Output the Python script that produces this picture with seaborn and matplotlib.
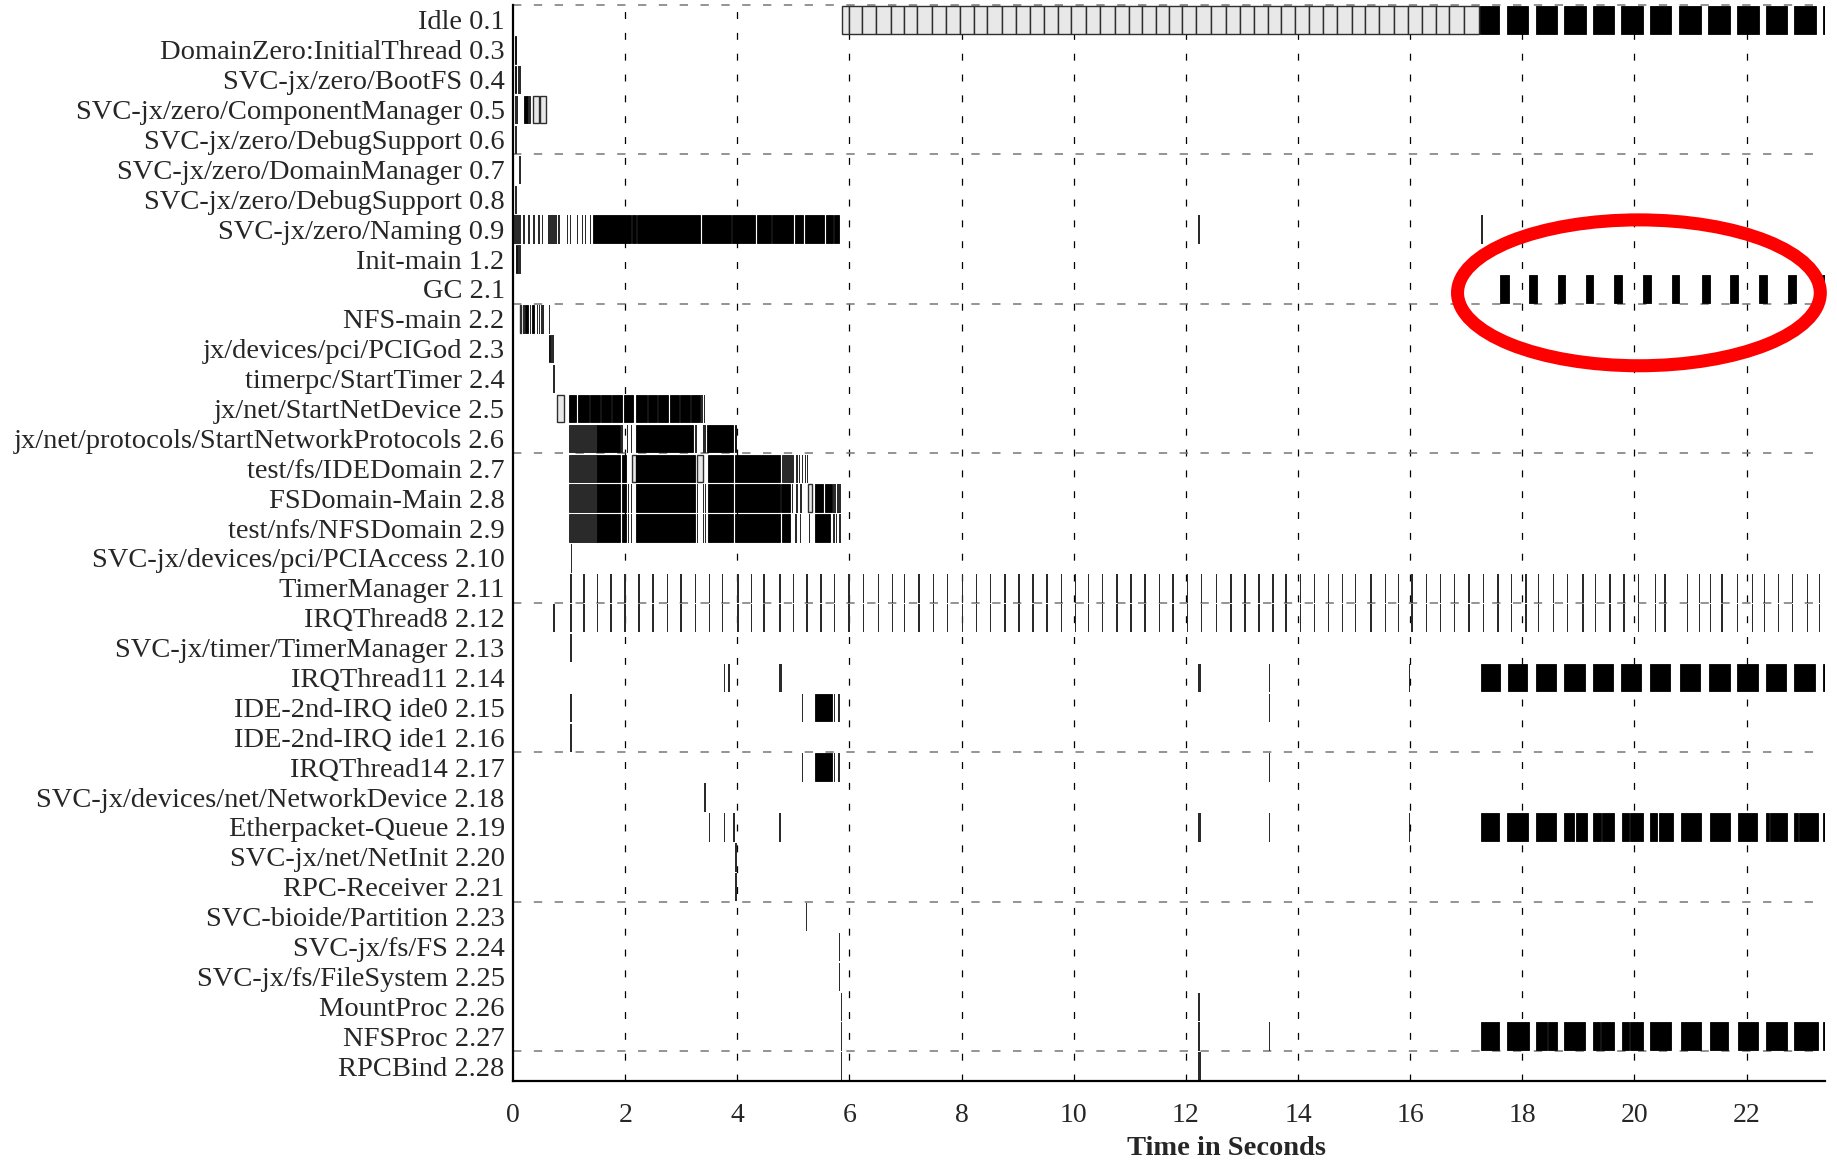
import numpy as np
import pandas as pd
import matplotlib
matplotlib.use("Agg")
import matplotlib.pyplot as plt
from matplotlib.patches import Ellipse
import seaborn as sns

# ---------------------------------------------------------------- threads
threads = [
    "Idle 0.1", "DomainZero:InitialThread 0.3", "SVC-jx/zero/BootFS 0.4",
    "SVC-jx/zero/ComponentManager 0.5", "SVC-jx/zero/DebugSupport 0.6",
    "SVC-jx/zero/DomainManager 0.7", "SVC-jx/zero/DebugSupport 0.8",
    "SVC-jx/zero/Naming 0.9", "Init-main 1.2", "GC 2.1", "NFS-main 2.2",
    "jx/devices/pci/PCIGod 2.3", "timerpc/StartTimer 2.4",
    "jx/net/StartNetDevice 2.5", "jx/net/protocols/StartNetworkProtocols 2.6",
    "test/fs/IDEDomain 2.7", "FSDomain-Main 2.8", "test/nfs/NFSDomain 2.9",
    "SVC-jx/devices/pci/PCIAccess 2.10", "TimerManager 2.11",
    "IRQThread8 2.12", "SVC-jx/timer/TimerManager 2.13", "IRQThread11 2.14",
    "IDE-2nd-IRQ ide0 2.15", "IDE-2nd-IRQ ide1 2.16", "IRQThread14 2.17",
    "SVC-jx/devices/net/NetworkDevice 2.18", "Etherpacket-Queue 2.19",
    "SVC-jx/net/NetInit 2.20", "RPC-Receiver 2.21", "SVC-bioide/Partition 2.23",
    "SVC-jx/fs/FS 2.24", "SVC-jx/fs/FileSystem 2.25", "MountProc 2.26",
    "NFSProc 2.27", "RPCBind 2.28",
]

# ---------------------------------------------------------------- run intervals (seconds)
idle_light_edges = [5.872, 5.992, 6.231, 6.469, 6.732, 6.971, 7.209, 7.472, 7.727,
                    7.966, 8.220, 8.459, 8.722, 8.977, 9.215, 9.470, 9.717, 9.956,
                    10.218, 10.465, 10.728, 10.983, 11.221, 11.468, 11.707, 11.938,
                    12.184, 12.439, 12.718, 12.973, 13.211, 13.458, 13.697, 13.952,
                    14.198, 14.453, 14.692, 14.955, 15.201, 15.440, 15.703, 15.965,
                    16.220, 16.459, 16.698, 16.953, 17.231]
idle_busy = [(17.24, 17.59), (17.72, 18.11), (18.24, 18.62), (18.74, 19.13),
             (19.26, 19.63), (19.76, 20.15), (20.27, 20.65), (20.80, 21.19),
             (21.32, 21.71), (21.83, 22.22), (22.34, 22.72), (22.85, 23.23),
             (23.36, 23.40)]

gc_busy = [(17.61, 17.76), (18.12, 18.26), (18.63, 18.77), (19.14, 19.27),
           (19.64, 19.78), (20.16, 20.30), (20.67, 20.80), (21.21, 21.35),
           (21.71, 21.85), (22.23, 22.37), (22.74, 22.88), (23.35, 23.40)]

naming_ticks = [0.01, 0.03, 0.05, 0.07, 0.09, 0.11, 0.184, 0.273, 0.362, 0.451,
                0.51, 0.63, 0.66, 0.69, 0.72, 0.75, 0.808, 0.957, 1.016, 1.135,
                1.224, 1.283, 1.372, 12.22, 17.27]
naming_busy = [(1.43, 2.10), (2.13, 2.19), (2.21, 3.33), (3.37, 3.88), (3.90, 4.32),
               (4.35, 4.60), (4.62, 5.00), (5.03, 5.17), (5.20, 5.55), (5.58, 5.70),
               (5.72, 5.82)]

netdev_busy = [(0.99, 1.13), (1.165, 1.36), (1.38, 1.55), (1.57, 1.75), (1.77, 1.95),
               (1.98, 2.14), (2.20, 2.38), (2.40, 2.56), (2.59, 2.77), (2.79, 2.96),
               (2.98, 3.15), (3.17, 3.33)]

timer_ticks = [1.02, 1.25, 1.49, 1.73, 1.98, 2.23, 2.48, 2.74, 2.98, 3.24, 3.49, 3.72,
               4.00, 4.24, 4.46, 4.75, 4.99, 5.23, 5.48, 5.72, 5.98, 6.24, 6.50, 6.75,
               6.97, 7.23, 7.49, 7.74, 8.00, 8.25, 8.50, 8.76, 9.01, 9.26, 9.51, 9.77,
               10.02, 10.25, 10.50, 10.76, 11.01, 11.26, 11.52, 11.76, 12.02, 12.27,
               12.53, 12.79, 13.04, 13.29, 13.54, 13.77, 14.03, 14.28, 14.53, 14.78,
               15.01, 15.29, 15.55, 15.78, 16.02, 16.28, 16.53, 16.78, 17.04, 17.30,
               17.55, 17.79, 18.05, 18.28, 18.54, 18.79, 19.07, 19.29, 19.55, 19.80,
               20.06, 20.36, 20.53, 20.93, 21.15, 21.34, 21.55, 21.83, 22.09, 22.31,
               22.56, 22.81, 23.07, 23.29]

irq11_busy = [(17.27, 17.60), (17.74, 18.09), (18.24, 18.60), (18.75, 19.11),
              (19.26, 19.61), (19.76, 20.12), (20.27, 20.64), (20.81, 21.17),
              (21.33, 21.70), (21.83, 22.20), (22.34, 22.71), (22.84, 23.22),
              (23.36, 23.40)]
ether_busy = [(17.27, 17.59), (17.73, 18.10), (18.24, 18.60), (18.75, 18.93),
              (18.95, 19.15), (19.26, 19.41), (19.42, 19.64), (19.77, 19.90),
              (19.92, 20.15), (20.28, 20.40), (20.43, 20.68), (20.83, 21.19),
              (21.34, 21.71), (21.84, 22.18), (22.35, 22.40), (22.42, 22.73),
              (22.85, 22.91), (22.94, 23.27), (23.37, 23.40)]
nfsproc_busy = [(17.27, 17.42), (17.43, 17.58), (17.73, 18.12), (18.24, 18.44),
                (18.46, 18.62), (18.75, 19.11), (19.26, 19.39), (19.41, 19.64),
                (19.77, 19.90), (19.92, 20.15), (20.28, 20.65), (20.83, 21.19),
                (21.34, 21.66), (21.84, 22.20), (22.35, 22.72), (22.85, 23.27),
                (23.37, 23.40)]

# per-thread intervals: busy (solid), light (outlined box), dense (striped), ticks (instants)
busy = {
    1: [(0.03, 0.06)],
    2: [(0.04, 0.06)],
    3: [(0.19, 0.24)],
    7: naming_busy,
    8: [(0.045, 0.075)],
    10: [(0.22, 0.27), (0.34, 0.38)],
    11: [(0.64, 0.66)],
    13: netdev_busy,
    14: [(1.49, 1.90), (2.19, 3.21), (3.45, 3.93), (3.95, 3.97)],
    15: [(1.49, 1.90), (1.95, 2.01), (2.19, 3.24), (3.48, 3.93), (3.96, 4.76)],
    16: [(1.49, 1.90), (1.95, 2.01), (2.19, 3.24), (3.48, 3.93), (3.96, 4.76),
         (4.78, 4.94), (5.38, 5.53), (5.56, 5.68)],
    17: [(1.49, 1.90), (1.95, 2.01), (2.19, 3.24), (3.48, 3.93), (3.96, 4.76),
         (4.79, 4.94), (5.38, 5.65)],
    23: [(5.38, 5.68)],
    25: [(5.38, 5.68)],
}
light = {
    3: [(0.36, 0.46), (0.48, 0.58)],
    10: [(0.125, 0.15)],
    13: [(0.79, 0.91)],
    15: [(2.13, 2.19), (3.28, 3.39)],
    16: [(5.26, 5.34)],
}
dense = {
    3: [(0.25, 0.30)],
    14: [(0.99, 1.49)],
    15: [(0.99, 1.49), (4.79, 5.00)],
    16: [(0.99, 1.49)],
    17: [(0.99, 1.49)],
}
ticks = {
    2: [0.085, 0.11],
    3: [0.04, 0.055],
    4: [0.04],
    5: [0.11],
    6: [0.04],
    7: naming_ticks,
    8: [0.095, 0.115],
    10: [0.17, 0.19, 0.30, 0.42, 0.46, 0.50, 0.53, 0.64],
    11: [0.68, 0.70],
    12: [0.72],
    13: [3.36, 3.40],
    14: [1.93, 2.03, 2.10, 3.25, 3.38, 3.41],
    15: [5.05, 5.10, 5.15, 5.20, 5.235],
    16: [2.05, 2.10, 3.28, 3.38, 3.42, 4.97, 5.05, 5.12, 5.71, 5.74, 5.77, 5.80, 5.82],
    17: [2.05, 2.10, 3.28, 3.38, 3.42, 5.03, 5.11, 5.27, 5.71, 5.76, 5.82],
    18: [1.03],
    19: timer_ticks,
    20: [0.71, 0.73] + timer_ticks,
    21: [1.02],
    22: [3.76, 3.84, 4.75, 4.77, 12.21, 12.24, 13.48, 15.98],
    23: [1.02, 5.15, 5.72, 5.80, 13.48],
    24: [1.02],
    25: [5.15, 5.72, 5.80, 13.48],
    26: [3.41],
    27: [3.49, 3.76, 3.93, 4.75, 12.21, 12.24, 13.48, 15.98],
    28: [3.96],
    29: [3.96],
    30: [5.22],
    31: [5.81],
    32: [5.81],
    33: [5.84, 12.22],
    34: [5.84, 12.22, 13.48],
    35: [5.84, 12.21, 12.24],
}
busy[0] = idle_busy
busy[9] = gc_busy
busy[22] = irq11_busy
busy[27] = ether_busy
busy[34] = nfsproc_busy
light[0] = list(zip(idle_light_edges[:-1], idle_light_edges[1:]))

TICK_W = 0.008

records = []
for kind, table in (("dense", dense), ("light", light), ("busy", busy)):
    for row, spans in table.items():
        for s, e in spans:
            records.append((row, s, e - s, kind))
for row, ts in ticks.items():
    for t in ts:
        records.append((row, t, TICK_W, "tick"))
segs = pd.DataFrame(records, columns=["row", "start", "dur", "kind"])

# ---------------------------------------------------------------- style
sns.set_theme(style="white")
plt.rcParams["font.family"] = ["Liberation Serif", "DejaVu Serif"]
plt.rcParams["lines.scale_dashes"] = False

fig = plt.figure(figsize=(18.37, 11.6), dpi=100)
ax = fig.add_axes([0.2793, 0.0681, 0.7142, 0.9276])

n = len(threads)
ax.set_xlim(0, 23.4)
ax.set_ylim(n - 0.5, -0.5)

# dashed grid
for x in range(2, 23, 2):
    ax.axvline(x, color="black", lw=0.9, ls=(0, (5, 10)), zorder=0.5)
for y in np.arange(-0.5, n - 1, 5):
    ax.axhline(y, color="#777777", lw=1.1, ls=(0, (6, 9)), zorder=0.5, clip_on=False)

H = 0.92
style = {
    "dense": dict(color="#2a2a2a", edgecolor="#1a1a1a", linewidth=0.6),
    "light": dict(color="#e8e8e8", edgecolor="#2e2e2e", linewidth=1.0),
    "busy": dict(color="black", edgecolor="black", linewidth=0.6),
    "tick": dict(color="#2b2b2b", edgecolor="#2b2b2b", linewidth=0.5,
                 antialiased=False),
}
for kind in ("dense", "light", "busy", "tick"):
    d = segs[segs["kind"] == kind]
    ax.barh(d["row"], d["dur"], left=d["start"], height=H, align="center",
            zorder=2, **style[kind])

# GC highlight
ax.add_patch(Ellipse((20.08, 9.13), width=6.47, height=4.88, fill=False,
                     edgecolor="#ff0000", linewidth=9.4, clip_on=False, zorder=5))

ax.set_yticks(range(n))
ax.set_yticklabels(threads, fontsize=20.5)
ax.set_xticks(range(0, 23, 2))
ax.set_xticklabels([str(v) for v in range(0, 23, 2)], fontsize=20)
ax.tick_params(axis="both", length=0)
ax.tick_params(axis="y", pad=6)
ax.tick_params(axis="x", pad=16)

ax.set_xlabel("Time in Seconds", fontsize=20.5, fontweight="bold")
ax.xaxis.set_label_coords(0.544, -0.051)

for side in ("top", "right"):
    ax.spines[side].set_visible(False)
for side in ("left", "bottom"):
    ax.spines[side].set_color("black")
    ax.spines[side].set_linewidth(1.6)
    ax.spines[side].set_zorder(6)

fig.savefig("out.png", dpi=100, facecolor="white")
